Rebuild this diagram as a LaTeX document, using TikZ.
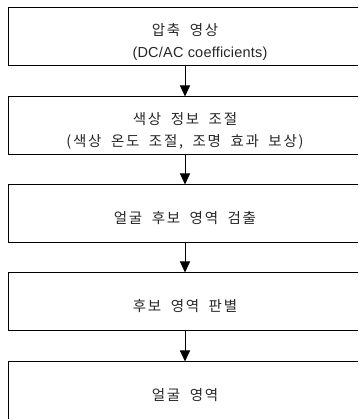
\documentclass[tikz,border=0pt]{standalone}
\usepackage{fontspec}
\setmainfont{Noto Sans CJK KR}[LetterSpace=12]
\newfontfamily\latinfont{Liberation Sans}[LetterSpace=1.5]
\usetikzlibrary{arrows.meta}
\newsavebox{\stagebin}
\newcommand{\widespaces}{\spaceskip=9.5pt\relax}
\newcommand{\stagetext}[1]{\sbox{\stagebin}{\begin{tabular}{@{}c@{}}#1\end{tabular}}\raisebox{-5pt}[\ht\stagebin][\dp\stagebin]{\usebox{\stagebin}}}
\begin{document}
\begin{tikzpicture}[x=1pt,y=1pt,
  stagebox/.style={draw=black,line width=1pt,minimum width=354pt,minimum height=58pt,
    inner sep=0pt,font={\fontsize{14.5}{22}\selectfont\widespaces},text=black!85},
  flow/.style={line width=1pt,-{Triangle[length=11pt,width=10pt]}}]
\clip (0,0) rectangle (358,419);
\node[stagebox] (b1) at (185,382) {\stagetext{압축 영상\\\hspace*{30pt}{\latinfont\spaceskip=0pt\relax (DC/AC coefficients)}}};
\node[stagebox] (b2) at (185,293) {\stagetext{색상 정보 조절\\(색상 온도 조절, 조명 효과 보상)}};
\node[stagebox] (b3) at (185,205) {\stagetext{얼굴 후보 영역 검출}};
\node[stagebox] (b4) at (185,117) {\stagetext{후보 영역 판별}};
\node[stagebox] (b5) at (185,28) {\stagetext{얼굴 영역}};
\draw[flow] (b1.south) -- (b2.north);
\draw[flow] (b2.south) -- (b3.north);
\draw[flow] (b3.south) -- (b4.north);
\draw[flow] (b4.south) -- (b5.north);
\end{tikzpicture}
\end{document}
